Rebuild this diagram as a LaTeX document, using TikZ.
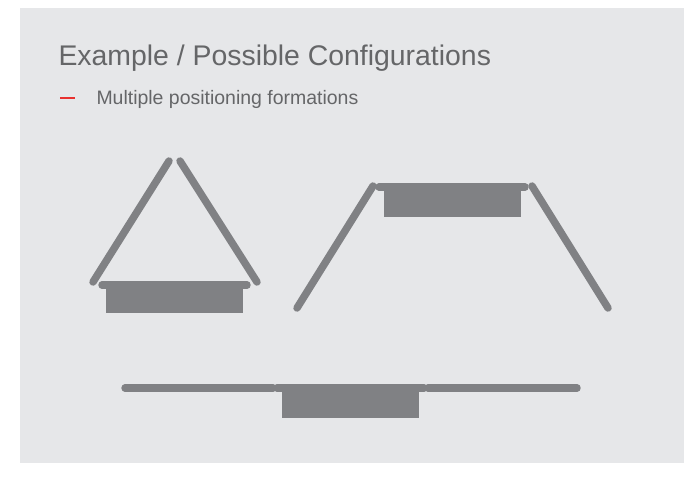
\documentclass[tikz,border=0pt]{standalone}
\usepackage{fontspec}
\setmainfont{Liberation Sans}
\definecolor{panelgray}{HTML}{E6E7E9}
\definecolor{shapegray}{HTML}{808184}
\definecolor{textgray}{HTML}{656668}
\definecolor{dashred}{HTML}{E8312F}
\tikzset{every picture/.style={line width=0.75pt},
  rod/.style={draw=shapegray,line width=5.6pt,line cap=round},
  block/.style={fill=shapegray,draw=none},
  title/.style={anchor=base west,inner sep=0pt,text=textgray,font=\fontsize{21.3}{24}\selectfont},
  bullet/.style={anchor=base west,inner sep=0pt,text=textgray,font=\fontsize{14.6}{17}\selectfont}}
\begin{document}
\begin{tikzpicture}[x=0.75pt,y=0.75pt,yscale=-1,xscale=1]
  \useasboundingbox (0,0) rectangle (684,496);
  %Shape: Rectangle [panel]
  \fill[panelgray] (20,8) rectangle (684,463);

  % Text Node
  \node[title] (heading) at (58,65) {Example / Possible Configurations};
  % Text Node
  \node[bullet] (point) at (96,104) {Multiple positioning formations};
  %Straight Lines [red dash]
  \draw[dashred,line width=2pt] (60,98) -- (75,98);

  %Shape: Rectangle [triangle block]
  \path[block] (106,285) rectangle (243,313);
  %Straight Lines [triangle]
  \draw[rod] (93,282) -- (169,161);
  \draw[rod] (180,161) -- (257,282);
  \draw[rod] (102,285) -- (247,285);

  %Shape: Rectangle [trapezoid block]
  \path[block] (384,187) rectangle (521,217);
  %Straight Lines [trapezoid]
  \draw[rod] (297,308) -- (373,186);
  \draw[rod] (379,187) -- (525,187);
  \draw[rod] (532,186) -- (608,308);

  %Shape: Rectangle [flat block]
  \path[block] (282,388) rectangle (419,418);
  %Straight Lines [flat]
  \draw[rod] (125,388) -- (273,388);
  \draw[rod] (277,388) -- (424,388);
  \draw[rod] (428,388) -- (577,388);

\end{tikzpicture}
\end{document}
